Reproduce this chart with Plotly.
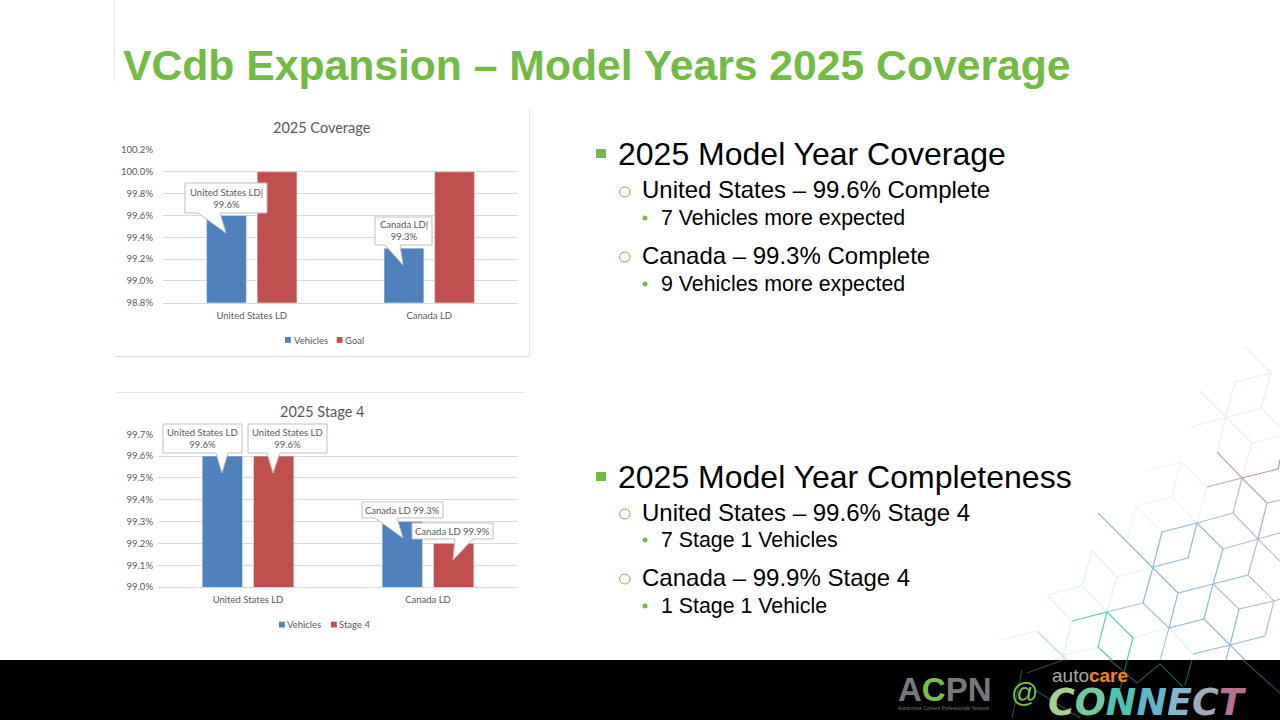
"""VCdb expansion slide: two coverage bar charts with summary text."""

import plotly.graph_objects as go

W, H = 1280, 720

GREEN = "#72bb45"
BLUE_BAR = "#4f81bd"
RED_BAR = "#c0504d"
GREY_TEXT = "#595959"
GRID = "#d9d9d9"
CHART_FONT = "Lato"
SLIDE_FONT = "Liberation Sans"

CATEGORIES = ["United States LD", "Canada LD"]

COVERAGE_TITLE = "2025 Coverage"
COVERAGE_VEHICLES = [99.6, 99.3]
COVERAGE_GOAL = [100.0, 100.0]
COVERAGE_TICKS = [98.8, 99.0, 99.2, 99.4, 99.6, 99.8, 100.0, 100.2]

STAGE_TITLE = "2025 Stage 4"
STAGE_VEHICLES = [99.6, 99.3]
STAGE_STAGE4 = [99.6, 99.2]
STAGE_TICKS = [99.0, 99.1, 99.2, 99.3, 99.4, 99.5, 99.6, 99.7]

SLIDE_TITLE = "VCdb Expansion – Model Years 2025 Coverage"

# callouts: text, box x0, y0, x1, y1, wedge base x0, x1, wedge tip x, y (pixels)
CALLOUTS = [
    ("United States LD|<br>99.6%", 185, 183, 267, 213, 198, 220, 226, 233),
    ("Canada LD|<br>99.3%", 375, 217, 432, 245, 385, 400, 403, 265),
    ("United States LD<br>99.6%", 163, 424, 242, 453, 216, 228, 222, 473),
    ("United States LD<br>99.6%", 248, 424, 327, 453, 267, 280, 273, 473),
    ("Canada LD 99.3%", 362, 502, 443, 518, 375, 397, 403, 538),
    ("Canada LD 99.9%", 412, 523, 493, 539, 455, 473, 453, 560),
]

# legends: name, colour, swatch x, text x, swatch y (pixels)
LEGEND_ITEMS = [
    ("Vehicles", BLUE_BAR, 285, 293.5, 337),
    ("Goal", RED_BAR, 336.7, 345, 337),
    ("Vehicles", BLUE_BAR, 279, 287.3, 621.7),
    ("Stage 4", RED_BAR, 331, 339.3, 621.7),
]

# bullets: level, y centre, text
BULLETS = [
    (1, 154, "2025 Model Year Coverage"),
    (2, 190, "United States – 99.6% Complete"),
    (3, 218, "7 Vehicles more expected"),
    (2, 255, "Canada – 99.3% Complete"),
    (3, 284, "9 Vehicles more expected"),
    (1, 477, "2025 Model Year Completeness"),
    (2, 512, "United States – 99.6% Stage 4"),
    (3, 540, "7 Stage 1 Vehicles"),
    (2, 577, "Canada – 99.9% Stage 4"),
    (3, 606, "1 Stage 1 Vehicle"),
]

# background cube pattern, colour -> polylines in pixels
PATTERN = {
    "#f5e8ec": [
        [(1245, 347), (1271, 373), (1235, 382), (1226, 417), (1217, 452)],
        [(1271, 373), (1261, 408), (1191, 427)],
        [(1200, 391), (1252, 443), (1242, 478)],
        [(1261, 408), (1280, 427)],
        [(1252, 443), (1280, 436)],
    ],
    "#ecf3f7": [
        [(1146, 471), (1181, 462), (1207, 487), (1197, 523)],
        [(1181, 462), (1172, 497), (1136, 506), (1127, 542)],
        [(1172, 497), (1197, 523)],
        [(1136, 506), (1162, 532)],
    ],
    "#def4ef": [
        [(1047, 595), (1082, 586), (1092, 551), (1117, 577), (1107, 612)],
        [(1082, 586), (1107, 612)],
        [(1047, 595), (1072, 621), (1063, 655)],
        [(1117, 577), (1153, 567)],
        [(1133, 638), (1169, 628), (1193, 654)],
    ],
    "#e8f5e4": [
        [(1002, 640), (1037, 631)],
        [(1063, 655), (1098, 647)],
    ],
    "#b8e2c6": [[(1037, 631), (1067, 660)]],
    "#5fcdb6": [
        [(1072, 621), (1107, 612), (1133, 638), (1127, 660)],
        [(1107, 612), (1098, 647), (1112, 660)],
    ],
    "#9cc9d6": [
        [(1143, 603), (1107, 612)],
        [(1143, 603), (1169, 628), (1160, 660)],
    ],
    "#8fbbd6": [
        [(1098, 513), (1178, 593), (1213, 584), (1248, 575)],
        [(1153, 567), (1188, 558), (1197, 523)],
        [(1162, 532), (1197, 523)],
        [(1162, 532), (1153, 567), (1143, 603)],
        [(1178, 593), (1169, 628), (1204, 619), (1213, 584), (1223, 549), (1197, 523)],
        [(1204, 619), (1230, 645), (1245, 660)],
        [(1239, 609), (1230, 645), (1226, 660)],
        [(1265, 636), (1230, 645), (1193, 654)],
    ],
    "#b4bfd2": [
        [(1197, 523), (1233, 513), (1258, 539), (1280, 561)],
        [(1223, 549), (1258, 539), (1280, 533)],
        [(1248, 575), (1258, 539)],
        [(1248, 575), (1274, 601), (1265, 636)],
        [(1213, 584), (1239, 609), (1274, 601), (1280, 599)],
        [(1233, 513), (1242, 478)],
    ],
    "#bfa9b8": [
        [(1217, 452), (1242, 478), (1267, 503), (1258, 539)],
        [(1207, 487), (1242, 478)],
        [(1267, 503), (1280, 500)],
    ],
    "#c78fa8": [[(1242, 478), (1278, 469), (1280, 460)]],
}

# the same lines running on, dimmed, behind the footer
FOOTER_PATTERN = {
    "#1f5a52": [
        [(1110, 660), (1137, 683), (1160, 664), (1183, 687)],
        [(1192, 660), (1185, 685)],
        [(1127, 660), (1120, 690)],
    ],
    "#2a4f2c": [
        [(1022, 670), (1012, 718)],
        [(1027, 673), (1063, 660)],
        [(1035, 690), (1080, 718)],
    ],
    "#1f4a60": [[(1243, 660), (1280, 693)]],
}

CONNECT_LETTERS = ["C", "O", "N", "N", "E", "C", "T"]
CONNECT_COLOURS = ["#a9d18e", "#72c9a0", "#4fc3b0", "#62b4c9", "#86b4d0", "#a0aab8", "#b8708f"]


def px(x):
    return x / W


def py(y):
    return 1 - y / H


def add_text(fig, x, y, text, size, color=GREY_TEXT, font=SLIDE_FONT, anchor="left", height=None):
    # annotations pad their text by about 2px on the anchored side
    x = x - 2 if anchor == "left" else x
    fig.add_annotation(
        xref="paper", yref="paper", x=px(x), y=py(y), text=text, showarrow=False,
        xanchor=anchor, yanchor="middle", align="center", height=height,
        font=dict(family=font, size=size, color=color),
    )


def add_rect(fig, x0, y0, x1, y1, color, layer="below"):
    fig.add_shape(
        type="rect", xref="paper", yref="paper", layer=layer,
        x0=px(x0), y0=py(y0), x1=px(x1), y1=py(y1),
        fillcolor=color, line_width=0,
    )


def add_polyline(fig, points, color, width=1.2):
    path = "M " + " L ".join(f"{px(x):.5f} {py(y):.5f}" for x, y in points)
    fig.add_shape(
        type="path", xref="paper", yref="paper", layer="below", path=path,
        line=dict(color=color, width=width),
    )


def add_callout(fig, text, x0, y0, x1, y1, base0, base1, tip_x, tip_y):
    points = [(x0, y0), (x1, y0), (x1, y1), (base1, y1), (tip_x, tip_y), (base0, y1), (x0, y1)]
    path = "M " + " L ".join(f"{px(x):.5f} {py(y):.5f}" for x, y in points) + " Z"
    fig.add_shape(
        type="path", xref="paper", yref="paper", layer="above", path=path,
        fillcolor="white", line=dict(color="#bfbfbf", width=1),
    )
    add_text(fig, (x0 + x1) / 2, (y0 + y1) / 2, text, 9.5, font=CHART_FONT, anchor="center")


fig = go.Figure()

# Bars
fig.add_trace(go.Bar(x=CATEGORIES, y=COVERAGE_VEHICLES, name="Vehicles", marker_color=BLUE_BAR,
                     xaxis="x", yaxis="y", offsetgroup="a"))
fig.add_trace(go.Bar(x=CATEGORIES, y=COVERAGE_GOAL, name="Goal", marker_color=RED_BAR,
                     xaxis="x", yaxis="y", offsetgroup="b"))
fig.add_trace(go.Bar(x=CATEGORIES, y=STAGE_VEHICLES, name="Vehicles", marker_color=BLUE_BAR,
                     xaxis="x2", yaxis="y2", offsetgroup="a"))
fig.add_trace(go.Bar(x=CATEGORIES, y=STAGE_STAGE4, name="Stage 4", marker_color=RED_BAR,
                     xaxis="x2", yaxis="y2", offsetgroup="b"))

axis_font = dict(family=CHART_FONT, size=9.5, color=GREY_TEXT)
x_style = dict(showgrid=False, showline=True, linecolor=GRID, linewidth=1, ticks="",
               tickfont=axis_font, fixedrange=True, ticklabelstandoff=4)
y_style = dict(showgrid=True, gridcolor=GRID, gridwidth=1, zeroline=False, showline=False,
               tickfont=axis_font, ticks="", fixedrange=True)

fig.update_layout(
    width=W, height=H,
    margin=dict(l=0, r=0, t=0, b=0, autoexpand=False),
    paper_bgcolor="white", plot_bgcolor="rgba(0,0,0,0)",
    barmode="group", bargap=0.43, bargroupgap=0.214,
    showlegend=False,
    xaxis=dict(domain=[px(163), px(518)], anchor="y", **x_style),
    yaxis=dict(domain=[py(302.7), py(150)], anchor="x", range=[98.8, 100.2], ticklabelstandoff=9,
               tickvals=COVERAGE_TICKS, ticktext=[f"{v:.1f}%" for v in COVERAGE_TICKS], **y_style),
    xaxis2=dict(domain=[px(158), px(518)], anchor="y2", **x_style),
    yaxis2=dict(domain=[py(587), py(434.3)], anchor="x2", range=[99.0, 99.7], ticklabelstandoff=4,
                tickvals=STAGE_TICKS, ticktext=[f"{v:.1f}%" for v in STAGE_TICKS], **y_style),
)

# Slide furniture
add_rect(fig, 0, 660, W, H, "#000000")
for colour, lines in PATTERN.items():
    for line in lines:
        add_polyline(fig, line, colour)
for colour, lines in FOOTER_PATTERN.items():
    for line in lines:
        add_polyline(fig, line, colour)
add_rect(fig, 114, 0, 115, 81, "#e3e3e3")
add_rect(fig, 529, 109, 530, 356, "#e6e6e6")
add_rect(fig, 116, 356, 530, 357, "#dcdcdc")
add_rect(fig, 116, 392, 525, 393, "#e6e6e6")

add_text(fig, 123, 65, f"<b>{SLIDE_TITLE}</b>", 42.67, GREEN)

# Chart titles
add_text(fig, 322, 127, COVERAGE_TITLE, 14.5, font=CHART_FONT, anchor="center")
add_text(fig, 322, 411, STAGE_TITLE, 14.5, font=CHART_FONT, anchor="center")

for callout in CALLOUTS:
    add_callout(fig, *callout)

# Chart legends
for name, colour, swatch_x, text_x, swatch_y in LEGEND_ITEMS:
    add_rect(fig, swatch_x, swatch_y, swatch_x + 5.8, swatch_y + 5.8, colour)
    add_text(fig, text_x, swatch_y + 3, name, 9.5, font=CHART_FONT)

# Bullet text
for level, y, text in BULLETS:
    if level == 1:
        add_rect(fig, 596, y - 5, 606, y + 4, GREEN)
        add_text(fig, 618, y, text, 32, "#000000")
    elif level == 2:
        fig.add_shape(type="circle", xref="paper", yref="paper", layer="below",
                      x0=px(619.5), y0=py(y + 7), x1=px(630), y1=py(y - 3),
                      line=dict(color=GREEN, width=1), fillcolor="white")
        add_text(fig, 642, y, text, 24, "#000000")
    else:
        fig.add_shape(type="circle", xref="paper", yref="paper", layer="below",
                      x0=px(642.5), y0=py(y + 2.5), x1=px(647.5), y1=py(y - 2.5),
                      line_width=0, fillcolor=GREEN)
        add_text(fig, 661, y, text, 21.33, "#000000")

# Footer logos
acpn = '<b>A<span style="color:#7ac143">C</span>PN</b>'
add_text(fig, 898, 689, acpn, 33, "#77787b", height=30)
add_text(fig, 898, 708, "Automotive Content Professionals Network", 4.8, "#77787b")
add_text(fig, 1011, 693, "@", 27, "#7ac143")
add_text(fig, 1052, 675, 'auto<b><span style="color:#f58220">care</span></b>', 19, "#a7a9ac", height=16)
connect = "".join(f'<span style="color:{c}">{l}</span>' for l, c in zip(CONNECT_LETTERS, CONNECT_COLOURS))
add_text(fig, 1048, 702, f"<b><i>{connect}</i></b>", 36.5, "#ffffff", "DejaVu Sans", height=30)

fig.write_html(
    "out.html",
    config={"displayModeBar": False},
    post_script="document.body.style.margin='0';document.body.style.overflow='hidden';",
)
